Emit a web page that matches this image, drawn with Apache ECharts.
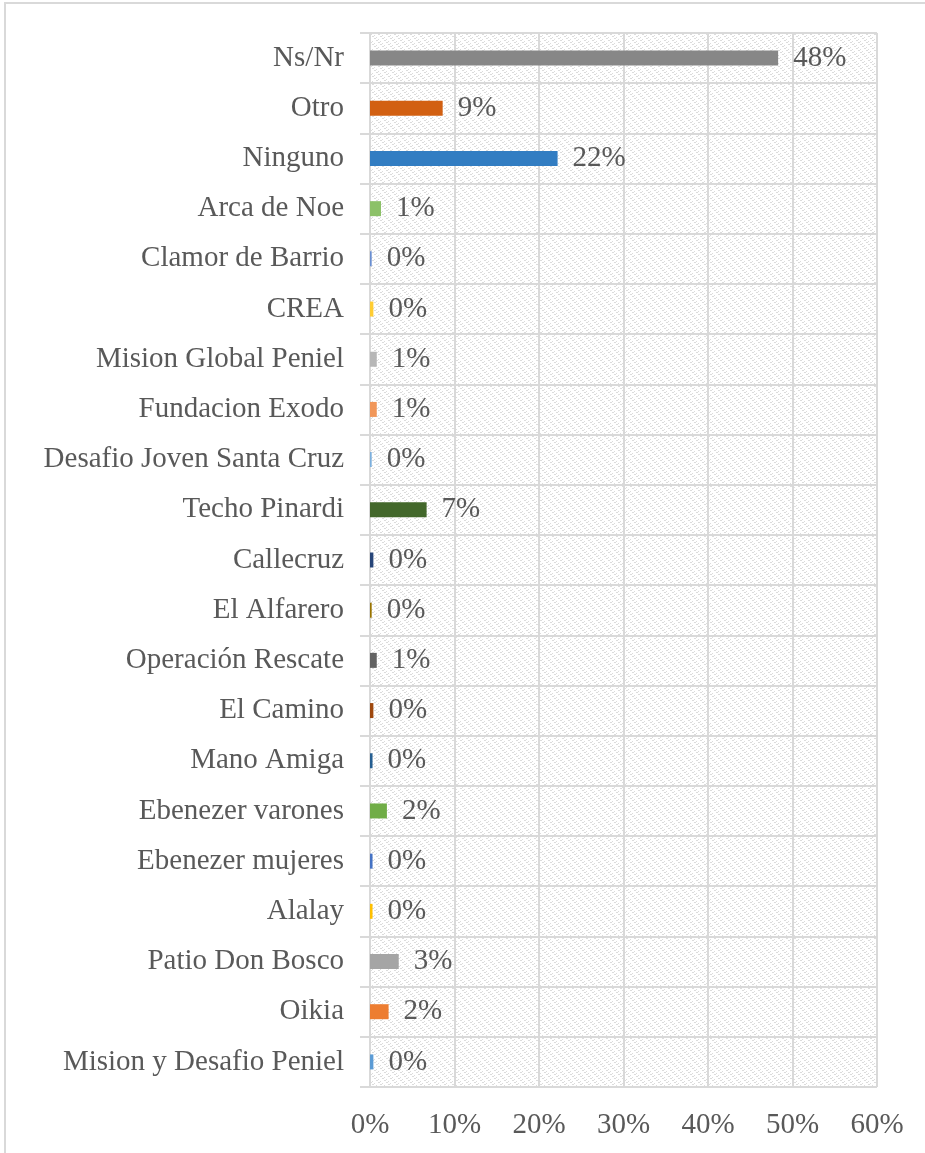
<!DOCTYPE html>
<html><head><meta charset="utf-8">
<script src="https://cdn.jsdelivr.net/npm/echarts@6/dist/echarts.min.js"></script>
<style>html,body{margin:0;padding:0;background:#fff}#c{width:925px;height:1153px}</style>
</head><body><div id="c"></div>
<script>
const categories = ["Mision y Desafio Peniel","Oikia","Patio Don Bosco","Alalay","Ebenezer mujeres","Ebenezer varones","Mano Amiga","El Camino","Operación Rescate","El Alfarero","Callecruz","Techo Pinardi","Desafio Joven Santa Cruz","Fundacion Exodo","Mision Global Peniel","CREA","Clamor de Barrio","Arca de Noe","Ninguno","Otro","Ns/Nr"];
const values = [0.004,0.022,0.034,0.003,0.003,0.020,0.003,0.004,0.008,0.002,0.004,0.067,0.002,0.008,0.008,0.004,0.002,0.013,0.222,0.086,0.483];
const colors = ["#5B9BD5","#ED7D31","#A5A5A5","#FFC000","#4472C4","#70AD47","#255E91","#9E480E","#636363","#997300","#264478","#43682B","#7CAFDD","#F1975A","#B7B7B7","#FFCD33","#698ED0","#8CC168","#327DC2","#D26012","#878787"];
const xTicks = [0,0.1,0.2,0.3,0.4,0.5,0.6];

const pc = document.createElement('canvas');
pc.width = 8; pc.height = 8;
const g = pc.getContext('2d');
g.fillStyle = '#fff'; g.fillRect(0,0,8,8);
g.fillStyle = '#DCDCDC';
for (let i = 0; i < 8; i += 2) {
  g.fillRect(i, i, 2, 1);
  g.fillRect((i+4)%8, i+1, 1, 1);
}
const serif = '"Liberation Serif", "DejaVu Serif", serif';
const chart = echarts.init(document.getElementById('c'));
chart.setOption({
  animation: false,
  backgroundColor: '#fff',
  graphic: [{type:'rect', shape:{x:5, y:3, width:940, height:1170}, style:{fill:'none', stroke:'#D9D9D9', lineWidth:2}, z:-10}],
  grid: {left:370, right:48, top:33, bottom:66, show:true, backgroundColor:{image: pc, repeat:'repeat'}, borderWidth:0},
  xAxis: {type:'value', min:xTicks[0], max:xTicks[xTicks.length-1], interval:0.1,
    axisLine:{show:false}, axisTick:{show:false},
    splitLine:{lineStyle:{color:'#D9D9D9', width:2}},
    axisLabel:{formatter: v => Math.round(v*100)+'%', color:'#595959', fontFamily:serif, fontSize:29, margin:24}},
  yAxis: {type:'category', data:categories,
    axisLine:{show:true, lineStyle:{color:'#D9D9D9', width:2}},
    axisTick:{show:true, length:10, lineStyle:{color:'#D9D9D9', width:2}},
    splitLine:{show:true, lineStyle:{color:'#D9D9D9', width:2}},
    axisLabel:{color:'#595959', fontFamily:serif, fontSize:29, margin:26}},
  series: [{type:'bar', barWidth:15,
    data: values.map((v,i)=>({value:v, itemStyle:{color:colors[i]}})),
    label:{show:true, position:'right', distance:15, color:'#595959', fontFamily:serif, fontSize:29,
      formatter: p => Math.round(p.value*100)+'%'}}]
});
</script></body></html>
